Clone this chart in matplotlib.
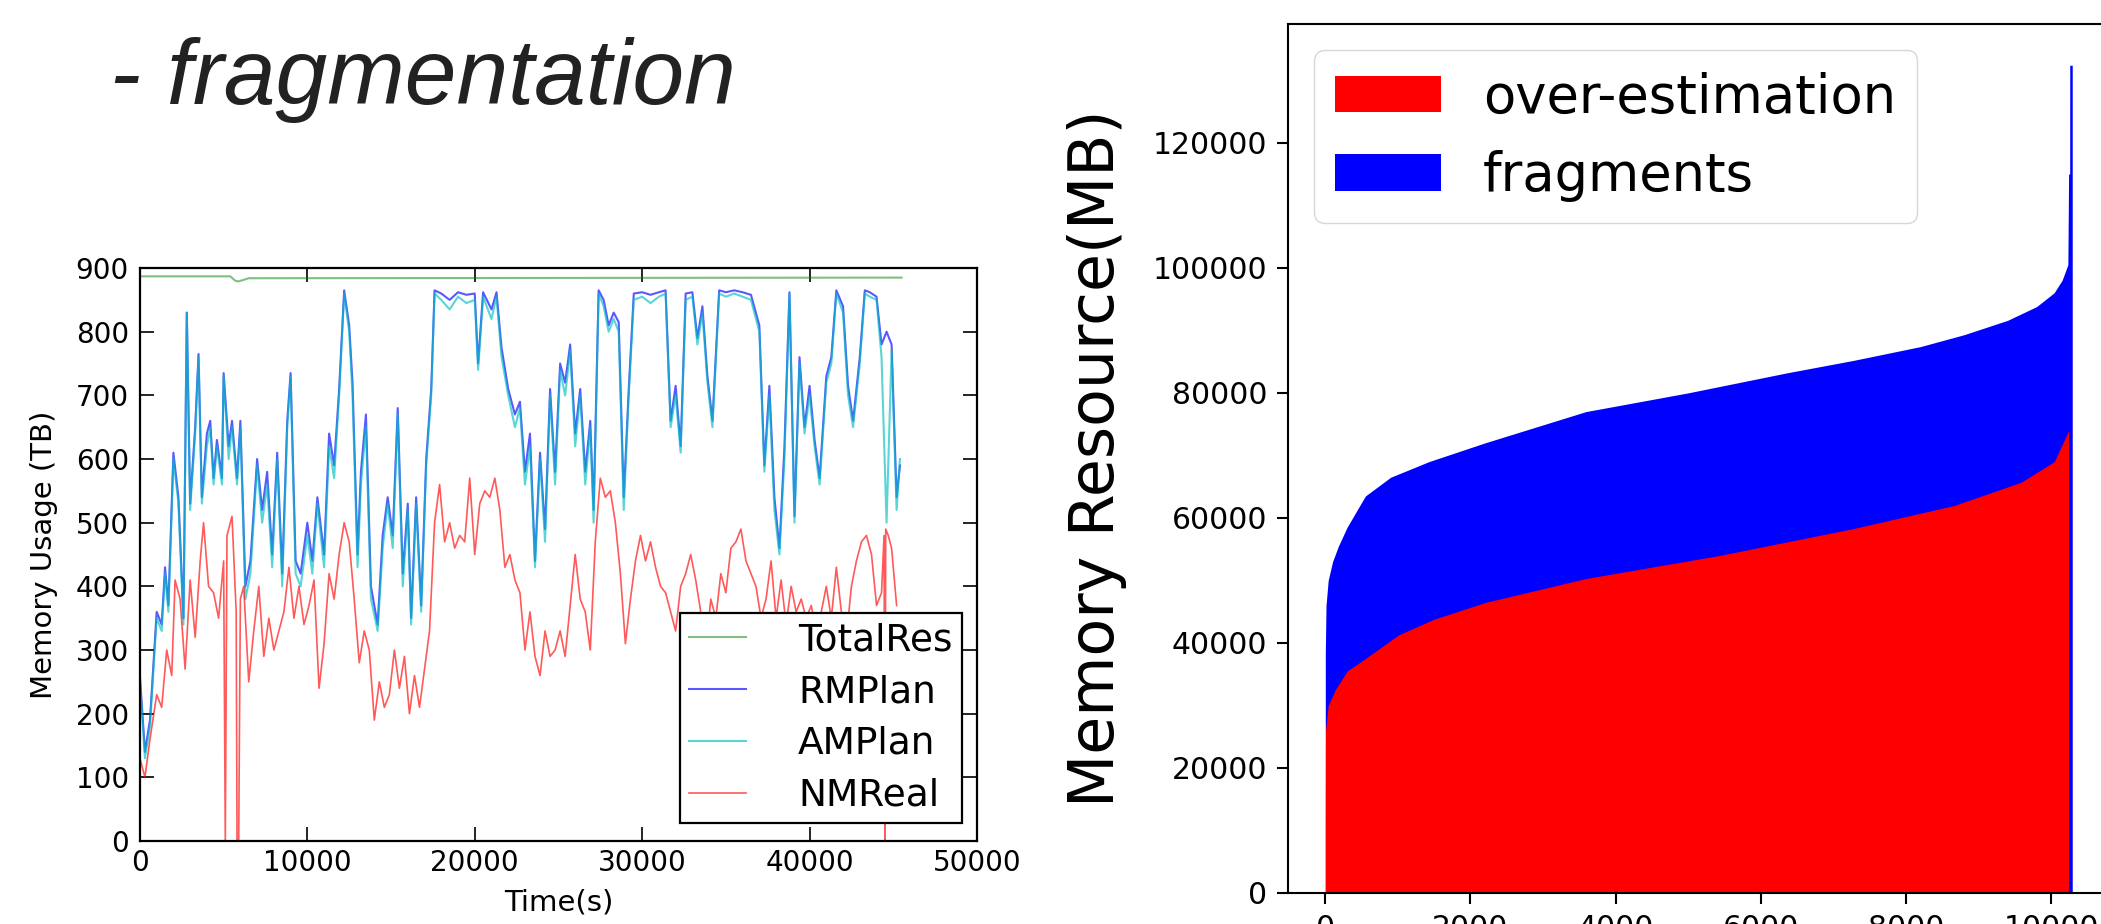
import matplotlib
matplotlib.use("Agg")
import matplotlib.pyplot as plt

# ---- left chart: memory usage over time ----
plan_time = [0, 300, 600, 1000, 1300, 1500, 1700, 2000, 2300, 2600,
             2800, 3000, 3300, 3500, 3700, 4000, 4200, 4400, 4600, 4900,
             5000, 5300, 5500, 5800, 6000, 6300, 6600, 7000, 7300, 7600,
             7900, 8200, 8500, 8800, 9000, 9300, 9600, 10000, 10300, 10600,
             11000, 11300, 11600, 11900, 12200, 12500, 12700, 13000, 13200, 13500,
             13800, 14200, 14500, 14800, 15100, 15400, 15700, 16000, 16200, 16500,
             16800, 17100, 17400, 17600, 18000, 18500, 19000, 19500, 20000, 20200,
             20500, 21000, 21300, 21600, 22000, 22400, 22700, 23000, 23300, 23600,
             23900, 24200, 24500, 24800, 25100, 25400, 25700, 26000, 26300, 26600,
             26900, 27100, 27400, 27700, 28000, 28300, 28600, 28900, 29200, 29500,
             30000, 30500, 31000, 31400, 31700, 32000, 32300, 32600, 33000, 33300,
             33600, 33900, 34200, 34600, 35000, 35500, 36000, 36500, 37000, 37300,
             37600, 37900, 38200, 38500, 38800, 39100, 39400, 39700, 40000, 40300,
             40600, 41000, 41300, 41600, 42000, 42300, 42600, 43000, 43300, 43600,
             44000, 44300, 44600, 44900, 45200, 45400]

am_plan = [250, 130, 180, 350, 330, 420, 360, 600, 530, 340,
           830, 520, 640, 760, 530, 620, 650, 560, 620, 560,
           730, 600, 650, 560, 650, 380, 420, 590, 500, 560,
           430, 600, 400, 650, 730, 420, 400, 480, 420, 530,
           430, 620, 570, 700, 860, 800, 700, 430, 560, 650,
           380, 330, 460, 530, 460, 670, 400, 520, 340, 530,
           360, 590, 700, 860, 850, 835, 855, 845, 850, 740,
           855, 820, 855, 760, 700, 650, 680, 560, 620, 430,
           600, 470, 700, 560, 740, 700, 770, 620, 700, 560,
           650, 500, 860, 840, 800, 820, 800, 520, 700, 850,
           855, 845, 855, 860, 650, 700, 610, 850, 855, 780,
           830, 720, 650, 860, 855, 860, 855, 850, 800, 580,
           700, 520, 450, 600, 860, 500, 750, 640, 700, 620,
           560, 720, 750, 860, 830, 700, 650, 750, 860, 855,
           850, 760, 500, 770, 520, 600]

rm_plan = [260, 140, 190, 360, 340, 430, 370, 610, 540, 350,
           830, 530, 650, 765, 540, 640, 660, 570, 630, 570,
           735, 620, 660, 570, 660, 400, 440, 600, 520, 580,
           450, 610, 420, 660, 735, 440, 420, 500, 440, 540,
           450, 640, 590, 710, 865, 810, 720, 450, 580, 670,
           400, 340, 480, 540, 480, 680, 420, 530, 350, 540,
           370, 600, 710, 865, 860, 850, 862, 858, 860, 750,
           862, 835, 862, 775, 710, 670, 690, 580, 640, 440,
           610, 490, 710, 580, 750, 720, 780, 640, 710, 580,
           660, 520, 865, 850, 810, 830, 815, 540, 710, 860,
           862, 858, 862, 865, 660, 715, 620, 860, 862, 790,
           840, 730, 660, 865, 862, 865, 862, 858, 810, 590,
           715, 540, 460, 620, 862, 510, 760, 650, 715, 630,
           570, 730, 760, 865, 840, 715, 660, 760, 865, 862,
           855, 780, 800, 780, 540, 590]

nm_time = [0, 300, 600, 1000, 1300, 1600, 1900, 2100, 2400, 2700,
           3000, 3300, 3600, 3800, 4100, 4400, 4700, 5000, 5100, 5200,
           5500, 5750, 5800, 5900, 6000, 6200, 6500, 6800, 7100, 7400,
           7700, 8000, 8300, 8600, 8900, 9200, 9500, 9800, 10100, 10400,
           10700, 11000, 11300, 11600, 11900, 12200, 12500, 12800, 13100, 13400,
           13700, 14000, 14300, 14600, 14900, 15200, 15500, 15800, 16100, 16400,
           16700, 17000, 17300, 17600, 17900, 18200, 18500, 18800, 19100, 19400,
           19700, 20000, 20300, 20600, 20900, 21200, 21500, 21800, 22100, 22400,
           22700, 23000, 23300, 23600, 23900, 24200, 24500, 24800, 25100, 25400,
           25700, 26000, 26300, 26600, 26900, 27200, 27500, 27800, 28100, 28400,
           28700, 29000, 29300, 29600, 29900, 30200, 30500, 30800, 31100, 31400,
           31700, 32000, 32300, 32600, 32900, 33200, 33500, 33800, 34100, 34400,
           34700, 35000, 35300, 35600, 35900, 36200, 36500, 36800, 37100, 37400,
           37700, 38000, 38300, 38600, 38900, 39200, 39500, 39800, 40100, 40400,
           40700, 41000, 41300, 41600, 41900, 42200, 42500, 42800, 43100, 43400,
           43700, 44000, 44300, 44450, 44500, 44550, 44700, 44900, 45200]

nm_real = [130, 100, 160, 230, 210, 300, 260, 410, 380, 270,
           410, 320, 440, 500, 400, 390, 350, 440, 0, 480,
           510, 360, 0, 0, 380, 400, 250, 330, 400, 290,
           350, 300, 330, 360, 430, 350, 400, 340, 370, 410,
           240, 310, 420, 380, 450, 500, 470, 380, 280, 330,
           300, 190, 250, 210, 230, 300, 240, 290, 200, 260,
           210, 270, 330, 500, 560, 470, 500, 460, 480, 470,
           570, 450, 530, 550, 540, 570, 520, 430, 450, 410,
           390, 300, 360, 290, 260, 330, 290, 300, 330, 290,
           370, 450, 380, 360, 300, 470, 570, 540, 550, 500,
           420, 310, 380, 440, 480, 440, 470, 430, 400, 390,
           360, 330, 400, 420, 450, 410, 360, 300, 380, 350,
           420, 390, 460, 470, 490, 440, 420, 400, 350, 380,
           440, 350, 410, 340, 400, 360, 380, 350, 370, 330,
           360, 400, 350, 430, 360, 320, 400, 440, 470, 480,
           450, 370, 390, 480, 0, 490, 480, 460, 370]

total_time = [0, 5400, 5700, 5900, 6500, 45500]
total_res = [887, 887, 880, 879, 884, 885]

# ---- right chart: sorted per-job memory (index, MB) ----
frag_idx = [0, 10, 40, 100, 181, 300, 552, 900, 1428, 2200, 3590, 5000,
            6360, 7280, 8200, 8800, 9400, 9800, 10040, 10150, 10230,
            10240, 10255, 10256, 10290]
frag_top = [38000, 46000, 50000, 53000, 55500, 58500, 63500, 66500, 69000,
            72000, 77000, 80000, 83200, 85200, 87400, 89300, 91600, 93800,
            96000, 98000, 100500, 115000, 115000, 132400, 132400]

over_idx = [0, 3, 40, 137, 300, 552, 1012, 1500, 2212, 3590, 5435, 7280,
            8668, 9585, 10043, 10226, 10240]
over_top = [10000, 26000, 30000, 32500, 35500, 37500, 41300, 43800, 46500,
            50300, 54000, 58300, 62000, 65700, 69000, 73600, 74000]

fig = plt.figure(figsize=(21.01, 9.24), dpi=100)

fig.text(0.0524, 0.8874, "- fragmentation", family=["Liberation Sans", "DejaVu Sans"],
         style="italic", fontsize=67, color="#222222", va="baseline")

# left chart, old matplotlib look
ax1 = fig.add_axes([0.0666, 0.0898, 0.3984, 0.6201])
ax1.plot(total_time, total_res, color=(0, 0.5, 0), alpha=0.5, lw=1.5, label="TotalRes")
ax1.plot(plan_time, rm_plan, color="blue", alpha=0.65, lw=1.5, label="RMPlan")
ax1.plot(plan_time, am_plan, color=(0, 0.75, 0.75), alpha=0.65, lw=1.5, label="AMPlan")
ax1.plot(nm_time, nm_real, color="red", alpha=0.65, lw=1.2, label="NMReal")
ax1.set_xlim(0, 50000)
ax1.set_ylim(0, 900)
ax1.set_xticks(range(0, 50001, 10000))
ax1.set_yticks(range(0, 901, 100))
ax1.tick_params(direction="in", top=True, right=True, length=10, width=1.2,
                labelsize=20)
ax1.tick_params(axis="y", pad=8)
ax1.tick_params(axis="x", pad=6)
for s in ax1.spines.values():
    s.set_linewidth(1.6)
ax1.set_xlabel("Time(s)", fontsize=21, labelpad=8)
ax1.set_ylabel("Memory Usage (TB)", fontsize=21, labelpad=13)
leg1 = ax1.legend(loc="upper left", bbox_to_anchor=(680 / 2101, 1 - 613 / 924),
                  bbox_transform=fig.transFigure, borderaxespad=0, fontsize=27,
                  fancybox=False, framealpha=1, edgecolor="black",
                  handlelength=1.5, handletextpad=1.4, borderpad=0.25,
                  labelspacing=0.42)
leg1.get_frame().set_linewidth(1.6)

# right chart, newer matplotlib look; it runs off the right edge of the slide
ax2 = fig.add_axes([0.6130, 0.03355, 0.3911, 0.9405])
ax2.fill_between(frag_idx, 0, frag_top, color="blue", lw=0, label="fragments")
ax2.fill_between(over_idx, 0, over_top, color="red", lw=0, label="over-estimation")
ax2.set_xlim(-515, 10805)
ax2.set_ylim(0, 139000)
ax2.set_xticks(range(0, 10001, 2000))
ax2.set_yticks(range(0, 120001, 20000))
ax2.tick_params(length=8, width=1.5, labelsize=21.5, pad=7)
for s in ax2.spines.values():
    s.set_linewidth(1.5)
ax2.set_ylabel("Memory Resource(MB)", fontsize=44.5, labelpad=18)
h, l = ax2.get_legend_handles_labels()
ax2.legend(h[::-1], l[::-1], loc="upper left", fontsize=38)

fig.savefig("out.png", dpi=100)
